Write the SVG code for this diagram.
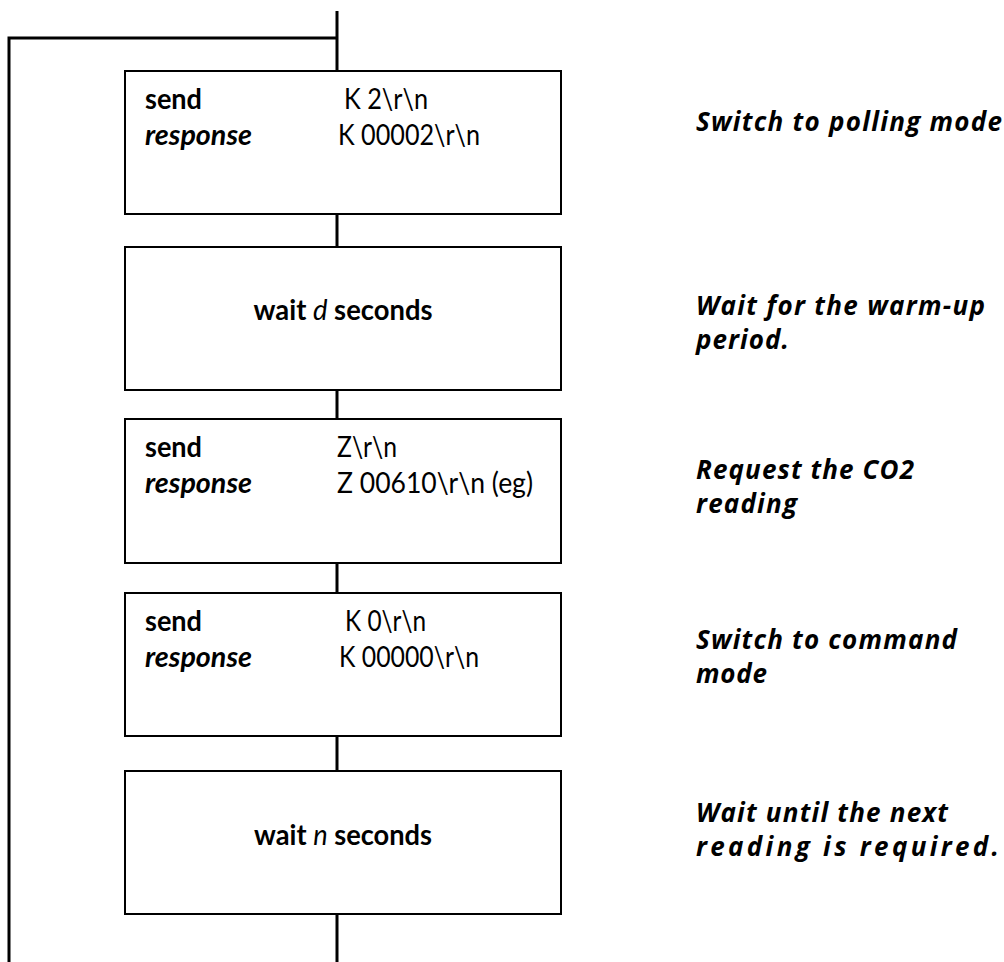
<svg xmlns="http://www.w3.org/2000/svg" width="1004" height="962" viewBox="0 0 1004 962">
<style>
.box{fill:#fff;stroke:#000;stroke-width:2}
.con{stroke:#000;stroke-width:3;fill:none}
text{font-family:Lato,"Open Sans","Liberation Sans",sans-serif;fill:#000}
.k{font-size:28px;font-weight:bold}
.ki{font-size:28px;font-weight:bold;font-style:italic}
.v{font-size:28px}
.c{font-size:28px;font-weight:bold}
.ci{font-weight:normal;font-style:italic}
.n{font-family:"Open Sans",Lato,sans-serif;font-size:26px;font-weight:bold;font-style:italic}
</style>
<rect width="1004" height="962" fill="#fff"/>
<g id="connectors">
<path class="con" d="M337 11V71M337 38H9V962M337 214V247M337 390V419M337 563V593M337 736V771M337 914V962"/>
</g>
<g id="node1">
<rect class="box" x="125" y="71" width="436" height="143"/>
<text class="k" x="145" y="109" textLength="57" lengthAdjust="spacingAndGlyphs">send</text>
<text class="ki" x="145" y="145" textLength="107" lengthAdjust="spacingAndGlyphs">response</text>
<text class="v" x="344" y="109" textLength="84" lengthAdjust="spacingAndGlyphs">K 2\r\n</text>
<text class="v" x="338" y="145" textLength="142" lengthAdjust="spacingAndGlyphs">K 00002\r\n</text>
</g>
<g id="node2">
<rect class="box" x="125" y="247" width="436" height="143"/>
<text class="c" x="343" y="320" text-anchor="middle" textLength="179" lengthAdjust="spacingAndGlyphs">wait <tspan class="ci">d</tspan> seconds</text>
</g>
<g id="node3">
<rect class="box" x="125" y="419" width="436" height="144"/>
<text class="k" x="145" y="457" textLength="57" lengthAdjust="spacingAndGlyphs">send</text>
<text class="ki" x="145" y="493" textLength="107" lengthAdjust="spacingAndGlyphs">response</text>
<text class="v" x="337" y="457" textLength="60" lengthAdjust="spacingAndGlyphs">Z\r\n</text>
<text class="v" x="337" y="493" textLength="196" lengthAdjust="spacingAndGlyphs">Z 00610\r\n (eg)</text>
</g>
<g id="node4">
<rect class="box" x="125" y="593" width="436" height="143"/>
<text class="k" x="145" y="631" textLength="57" lengthAdjust="spacingAndGlyphs">send</text>
<text class="ki" x="145" y="667" textLength="107" lengthAdjust="spacingAndGlyphs">response</text>
<text class="v" x="345" y="631" textLength="81" lengthAdjust="spacingAndGlyphs">K 0\r\n</text>
<text class="v" x="339" y="667" textLength="140" lengthAdjust="spacingAndGlyphs">K 00000\r\n</text>
</g>
<g id="node5">
<rect class="box" x="125" y="771" width="436" height="143"/>
<text class="c" x="343" y="845" text-anchor="middle" textLength="178" lengthAdjust="spacingAndGlyphs">wait <tspan class="ci">n</tspan> seconds</text>
</g>
<g id="notes">
<text class="n" x="696" y="131" textLength="306">Switch to polling mode</text>
<text class="n" x="696" y="315" textLength="289">Wait for the warm-up</text>
<text class="n" x="696" y="349" textLength="93">period.</text>
<text class="n" x="696" y="479" textLength="218">Request the CO2</text>
<text class="n" x="696" y="513" textLength="101">reading</text>
<text class="n" x="696" y="649" textLength="261">Switch to command</text>
<text class="n" x="696" y="683" textLength="71">mode</text>
<text class="n" x="696" y="822" textLength="252">Wait until the next</text>
<text class="n" x="696" y="856" textLength="303">reading is required.</text>
</g>
</svg>
